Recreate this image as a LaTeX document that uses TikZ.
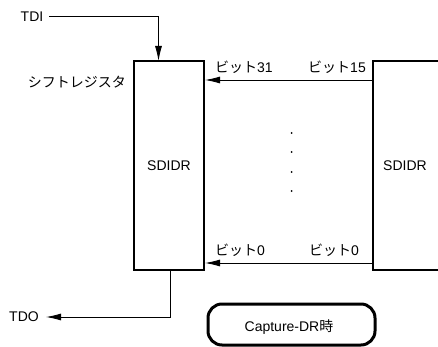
\documentclass[tikz,border=0pt]{standalone}
\usepackage{fontspec}
\setmainfont{Liberation Sans}
\newfontfamily\jp{Noto Sans CJK JP}
\usetikzlibrary{arrows.meta}
\begin{document}
\begin{tikzpicture}[x=1pt,y=-1pt,
  lbl/.style={font=\fontsize{14}{15}\selectfont, inner sep=0pt},
  regbox/.style={draw, line width=1.8pt},
  conn/.style={line width=0.9pt, -{Latex[length=15pt,width=7pt]}},
  capbox/.style={draw, line width=3pt, rounded corners=14pt}]
\useasboundingbox (0,0) rectangle (438,347);
\clip (0,0) rectangle (438,347);
% boxes
\draw[regbox] (134,61) rectangle (204,270);
\coordinate (Ltop) at (158.5,61);
\coordinate (Lbot) at (170,270);
\draw[regbox] (450,270) -- (373,270) -- (373,61) -- (450,61);
\draw[capbox] (208,304) rectangle (375,345);
% labels
\node[lbl] (tdi) at (32,17) {TDI};
\node[lbl, anchor=east] (sr) at (126,82) {\jp シフトレジスタ};
\node[lbl] (s1) at (169,166) {SDIDR};
\node[lbl] (s2) at (405,166) {SDIDR};
\node[lbl, anchor=west] (b31) at (215,67.5) {\jp ビット\rmfamily 31};
\node[lbl, anchor=east] (b15) at (366,67.5) {\jp ビット\rmfamily 15};
\node[lbl, anchor=west] (b0l) at (215,250.5) {\jp ビット\rmfamily 0};
\node[lbl, anchor=east] (b0r) at (359,250.5) {\jp ビット\rmfamily 0};
\node[lbl] (tdo) at (24,317) {TDO};
\node[lbl] (cap) at (289,327) {Capture-DR\jp 時};
% dots
\foreach \yy in {133,152,172,191} \fill (291.7,\yy) circle (1pt);
% connectors
\coordinate (tdiE) at (49,16.5);
\draw[conn] (tdiE) -| (Ltop);
\coordinate (a1s) at (372,80);
\coordinate (a1e) at (205,80);
\draw[conn] (a1s) -- (a1e);
\coordinate (a2s) at (372,263);
\coordinate (a2e) at (205,263);
\draw[conn] (a2s) -- (a2e);
\coordinate (tdoE) at (46,317);
\draw[conn] (Lbot) |- (tdoE);
\end{tikzpicture}
\end{document}
